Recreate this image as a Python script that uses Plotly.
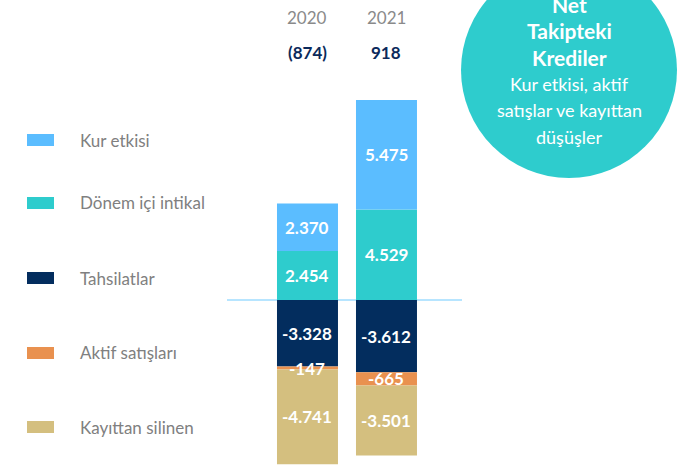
import plotly.graph_objects as go

# --- data -------------------------------------------------------------
years = ["2020", "2021"]
net_labels = ["(874)", "918"]

series_names = ["Dönem içi intikal", "Kur etkisi", "Tahsilatlar",
                "Aktif satışları", "Kayıttan silinen"]
donem_ici = [2454, 4529]
kur_etkisi = [2370, 5475]
tahsilatlar = [-3328, -3612]
aktif_satis = [-147, -665]
kayittan = [-4741, -3501]

series_values = [donem_ici, kur_etkisi, tahsilatlar, aktif_satis, kayittan]
series_colors = ["#2ecccd", "#5bbdff", "#032d5e", "#e9914f", "#d4bf7f"]

legend_order = ["Kur etkisi", "Dönem içi intikal", "Tahsilatlar",
                "Aktif satışları", "Kayıttan silinen"]

circle_title = ["Net", "Takipteki", "Krediler"]
circle_sub = ["Kur etkisi, aktif", "satışlar ve kayıttan", "düşüşler"]

# --- layout helpers ---------------------------------------------------
W, H = 698, 467
FONT = "Lato"


def py(p):
    """pixel row -> paper y"""
    return (H - p) / H


def px(p):
    """pixel column -> paper x"""
    return p / W


def fmt(v):
    return f"{v:,}".replace(",", ".")


fig = go.Figure()

shapes = []
annotations = []

# stacked bars; value labels placed at each segment's middle so that
# thin segments keep a readable label on top of neighbouring segments
pos_base = [0] * len(years)
neg_base = [0] * len(years)
for name, vals, col in zip(series_names, series_values, series_colors):
    fig.add_trace(go.Bar(
        x=years, y=vals, name=name, marker=dict(color=col, line=dict(width=0)),
        showlegend=False, hoverinfo="skip",
    ))
    for i, v in enumerate(vals):
        if v >= 0:
            mid = pos_base[i] + v / 2
            pos_base[i] += v
        else:
            mid = neg_base[i] + v / 2
            neg_base[i] += v
        # category axis: annotation x is the category index
        annotations.append(dict(text=fmt(v), xref="x", yref="y", x=i, y=mid,
                                xanchor="center", yanchor="middle", showarrow=False,
                                font=dict(family=FONT, size=17, color="white",
                                          weight="bold")))

# zero line
shapes.append(dict(type="line", xref="paper", yref="y", x0=px(227), x1=px(462),
                   y0=0, y1=0, line=dict(color="#9fdcff", width=1.6), layer="below"))

# legend drawn as swatches + labels
legend_rows = [140, 203, 278, 353, 427]
for name, row in zip(legend_order, legend_rows):
    col = series_colors[series_names.index(name)]
    shapes.append(dict(type="rect", xref="paper", yref="paper",
                       x0=px(27), x1=px(54), y0=py(row + 6), y1=py(row - 6),
                       fillcolor=col, line=dict(width=0)))
    annotations.append(dict(text=name, xref="paper", yref="paper", x=px(78), y=py(row),
                            xanchor="left", yanchor="middle", showarrow=False,
                            font=dict(family=FONT, size=17, color="#808080")))

# year headers and net values
for i, (yr, net) in enumerate(zip(years, net_labels)):
    annotations.append(dict(text=yr, xref="x", yref="paper", x=i, y=py(18),
                            xanchor="center", yanchor="middle", showarrow=False,
                            font=dict(family=FONT, size=17, color="#8a8a8a")))
    annotations.append(dict(text=net, xref="x", yref="paper", x=i, y=py(53),
                            xanchor="center", yanchor="middle", showarrow=False,
                            font=dict(family=FONT, size=17, color="#0b2a5b", weight="bold")))

# teal circle with title
shapes.append(dict(type="circle", xref="paper", yref="paper",
                   x0=px(461), x1=px(677), y0=py(178), y1=py(-38),
                   fillcolor="#2ecccd", line=dict(width=0)))
cx = px(569)
for txt, row in zip(circle_title, [5, 31, 57]):
    annotations.append(dict(text=txt, xref="paper", yref="paper", x=cx, y=py(row),
                            xanchor="center", yanchor="middle", showarrow=False,
                            font=dict(family=FONT, size=21, color="white", weight="bold")))
for txt, row in zip(circle_sub, [84, 110, 137]):
    annotations.append(dict(text=txt, xref="paper", yref="paper", x=cx, y=py(row),
                            xanchor="center", yanchor="middle", showarrow=False,
                            font=dict(family=FONT, size=18, color="white")))

fig.update_layout(
    width=W, height=H, margin=dict(l=0, r=0, t=0, b=0),
    barmode="relative", bargap=0.228,
    paper_bgcolor="white", plot_bgcolor="white",
    xaxis=dict(visible=False, range=[-3.892, 4.943], type="category", fixedrange=True),
    yaxis=dict(visible=False, range=[-8350, 15000], fixedrange=True),
    shapes=shapes, annotations=annotations,
    font=dict(family=FONT),
)

fig.write_html("out.html", config=dict(displayModeBar=False))
